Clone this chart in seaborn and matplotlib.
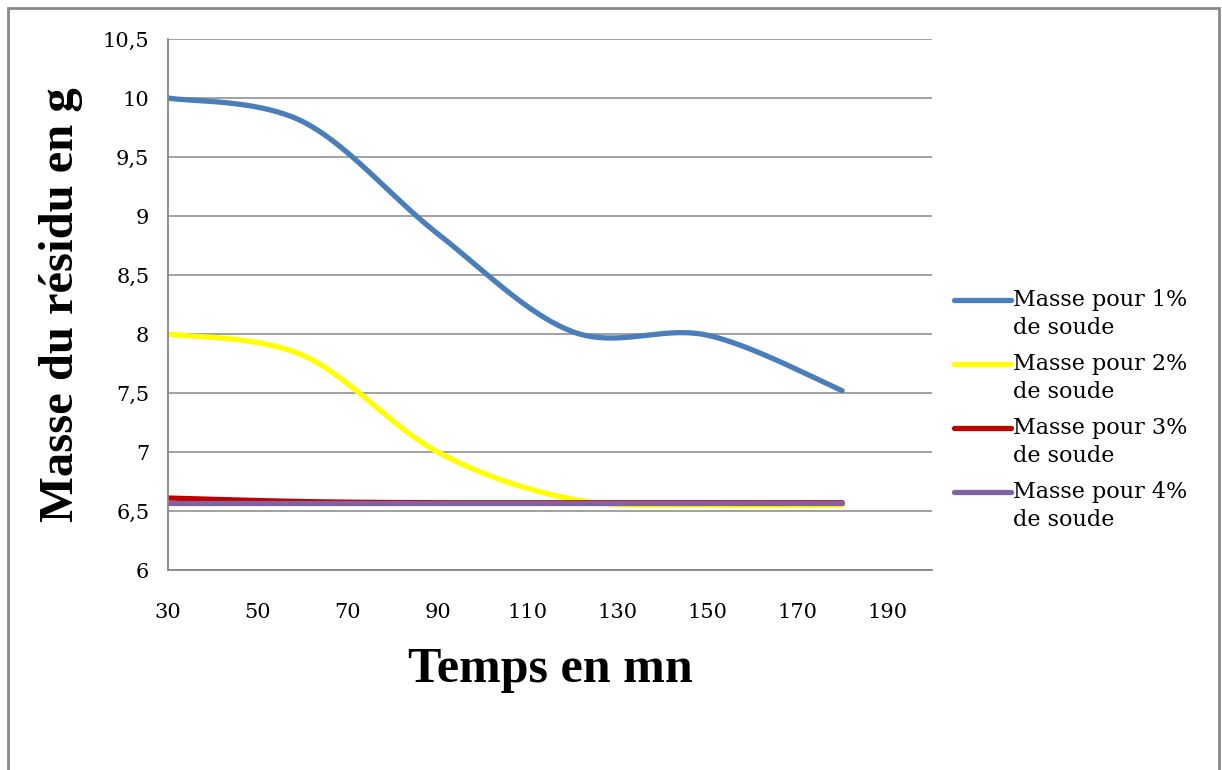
import numpy as np
import pandas as pd
import matplotlib
matplotlib.use("Agg")
import matplotlib.pyplot as plt
import seaborn as sns
from matplotlib.patches import Rectangle
from matplotlib.legend_handler import HandlerLine2D

# ---- data ----
temps = [30, 60, 90, 120, 150, 180]
masse_1 = [10.0, 9.80, 8.85, 8.02, 7.99, 7.52]
masse_2 = [8.0, 7.82, 7.0, 6.60, 6.55, 6.55]
masse_3 = [6.61, 6.58, 6.57, 6.57, 6.57, 6.57]
masse_4 = [6.57, 6.57, 6.57, 6.57, 6.57, 6.57]
series_labels = ["Masse pour 1%\nde soude", "Masse pour 2%\nde soude",
                 "Masse pour 3%\nde soude", "Masse pour 4%\nde soude"]
colors = ["#4A7EBB", "#FFFF00", "#C00000", "#8064A2"]
x_ticks = [30, 50, 70, 90, 110, 130, 150, 170, 190]
y_ticks = [6, 6.5, 7, 7.5, 8, 8.5, 9, 9.5, 10, 10.5]
y_tick_labels = ["6", "6,5", "7", "7,5", "8", "8,5", "9", "9,5", "10", "10,5"]
x_label = "Temps en mn"
y_label = "Masse du résidu en g"


def smooth(xs, ys, n=40):
    """Excel-style smoothed line (Bezier through the points)."""
    P = np.column_stack([xs, ys]).astype(float)
    m = len(P)
    out = []
    for i in range(m - 1):
        p0 = P[i]
        p3 = P[i + 1]
        pm = P[i - 1] if i > 0 else P[i]
        pp = P[i + 2] if i + 2 < m else P[i + 1]
        c1 = p0 + (p3 - pm) / 6.0
        c2 = p3 - (pp - p0) / 6.0
        t = np.linspace(0, 1, n)[:, None]
        if i > 0:
            t = t[1:]
        b = ((1 - t) ** 3) * p0 + 3 * ((1 - t) ** 2) * t * c1 + 3 * (1 - t) * t ** 2 * c2 + t ** 3 * p3
        out.append(b)
    return np.vstack(out)


class TopHandler(HandlerLine2D):
    def __init__(self, shift, **kw):
        super().__init__(**kw)
        self.shift = shift

    def create_artists(self, legend, orig_handle, xdescent, ydescent, width, height, fontsize, trans):
        arts = super().create_artists(legend, orig_handle, xdescent, ydescent, width, height, fontsize, trans)
        for a in arts:
            yd = np.asarray(a.get_ydata(), dtype=float)
            a.set_ydata(yd + self.shift * fontsize)
        return arts


sns.set_theme(style="white")
plt.rcParams["font.family"] = ["DejaVu Serif"]
plt.rcParams["text.color"] = "black"
plt.rcParams["axes.labelcolor"] = "black"

fig = plt.figure(figsize=(12.22, 7.70), dpi=100)
ax = fig.add_axes([168 / 1222, 1 - 570 / 770, (932 - 168) / 1222, (570 - 39) / 770])

frames = []
for lab, ys in zip(series_labels, [masse_1, masse_2, masse_3, masse_4]):
    c = smooth(temps, ys)
    frames.append(pd.DataFrame({"t": c[:, 0], "m": c[:, 1], "serie": lab}))
df = pd.concat(frames, ignore_index=True)

sns.lineplot(data=df, x="t", y="m", hue="serie", palette=colors, sort=False,
             estimator=None, linewidth=3.8, ax=ax, solid_capstyle="round")

ax.set_xlim(30, 200)
ax.set_ylim(6, 10.5)
ax.set_xticks(x_ticks)
ax.set_xticklabels([str(v) for v in x_ticks])
ax.set_yticks(y_ticks)
ax.set_yticklabels(y_tick_labels)

grid_c = "#878787"
ax.yaxis.grid(True, color=grid_c, linewidth=1.1)
ax.xaxis.grid(False)
for s in ["top", "right"]:
    ax.spines[s].set_visible(False)
for s in ["left", "bottom"]:
    ax.spines[s].set_color(grid_c)
    ax.spines[s].set_linewidth(1.3)
ax.tick_params(axis="both", which="major", direction="out", length=5.5, width=1.1,
               color=grid_c, labelsize=15, labelcolor="black")
ax.tick_params(axis="y", pad=8)
ax.tick_params(axis="x", pad=18.5)
ax.set_axisbelow(True)

ax.set_xlabel(x_label, family="Liberation Serif", fontweight="bold", fontsize=36,
              labelpad=18, color="black")
ax.set_ylabel(y_label, family="Liberation Serif", fontweight="bold", fontsize=35,
              labelpad=14, color="black")

handles, labels = ax.get_legend_handles_labels()
if ax.legend_:
    ax.legend_.remove()
leg = fig.legend(handles, labels, loc="upper left", bbox_to_anchor=(954 / 1222, 1 - 289 / 770),
                 frameon=False, fontsize=16, handlelength=2.55, handletextpad=0.12,
                 labelspacing=0.62, borderaxespad=0, borderpad=0,
                 handler_map={h: TopHandler(0.68) for h in handles})
for t in leg.get_texts():
    t.set_color("black")
    t.set_linespacing(1.37)
for h in leg.get_lines():
    h.set_linewidth(3.8)

fig.patches.append(Rectangle((8 / 1222, -0.05), (1219 - 8) / 1222, 1 - 8 / 770 + 0.05,
                             transform=fig.transFigure, fill=False, edgecolor="#898989",
                             linewidth=2, zorder=0))

fig.savefig("out.png", dpi=100)
